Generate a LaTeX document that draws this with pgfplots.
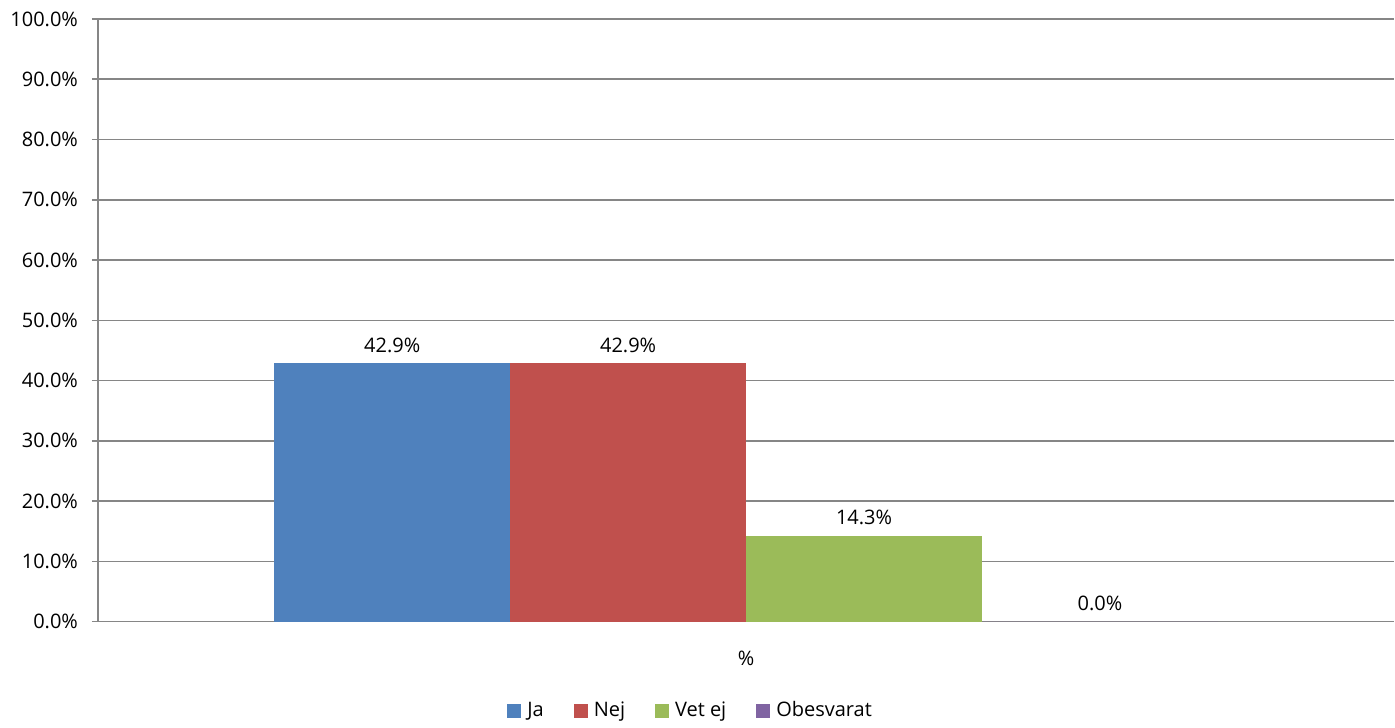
\documentclass[border=0pt]{standalone}
\usepackage{pgfplots}
\pgfplotsset{compat=1.18}
\usepackage{fontspec}
\setmainfont{Open Sans}
\definecolor{cJa}{HTML}{4F81BD}
\definecolor{cNej}{HTML}{C0504D}
\definecolor{cVet}{HTML}{9BBB59}
\definecolor{cObe}{HTML}{8064A2}
\definecolor{gridc}{HTML}{868686}
\begin{document}
\begin{tikzpicture}
\path (-49pt,-51pt) rectangle (648.5pt,311pt);
\begin{axis}[
  at={(0,0)}, anchor=south west,
  scale only axis,
  width=648.5pt, height=301.5pt,
  xmin=0, xmax=1, ymin=0, ymax=100,
  ybar=0pt, bar width=0.182,
  axis x line*=bottom, axis y line*=left,
  axis line style={gridc, line width=0.8pt},
  xtick={0.5}, xticklabels={\%},
  xtick style={draw=none},
  xticklabel style={yshift=-8pt},
  ytick={0,10,...,100},
  ymajorgrids, grid style={gridc, line width=0.8pt},
  ytick style={gridc, line width=0.8pt},
  tick align=outside, major tick length=3pt,
  yticklabel={\pgfmathprintnumber[fixed,fixed zerofill,precision=1]{\tick}\%},
  yticklabel style={xshift=-3.5pt},
  /pgf/number format/assume math mode=true,
  tick label style={font=\fontsize{10}{12}\selectfont, text=black},
  nodes near coords={\pgfmathprintnumber[fixed,fixed zerofill,precision=1]{\pgfplotspointmeta}\%},
  nodes near coords style={font=\fontsize{10}{12}\selectfont, text=black, anchor=south, yshift=2pt},
  legend columns=4,
  legend style={draw=none, at={(0.458,-0.1476)}, anchor=center,
    font=\fontsize{10}{12}\selectfont,
    /tikz/every odd column/.append style={column sep=1pt},
    /tikz/every even column/.append style={column sep=13pt}},
  legend image code/.code={\draw[#1, draw=none] (0pt,-3.5pt) rectangle (7pt,3.5pt);},
]
\addplot[fill=cJa, draw=none, bar shift=-0.273] coordinates {(0.5,42.857)};
\addplot[fill=cNej, draw=none, bar shift=-0.091] coordinates {(0.5,42.857)};
\addplot[fill=cVet, draw=none, bar shift=0.091] coordinates {(0.5,14.286)};
\addplot[fill=cObe, draw=none, bar shift=0.273] coordinates {(0.5,0)};
\legend{Ja, Nej, Vet ej, Obesvarat}
\end{axis}
\end{tikzpicture}
\end{document}
